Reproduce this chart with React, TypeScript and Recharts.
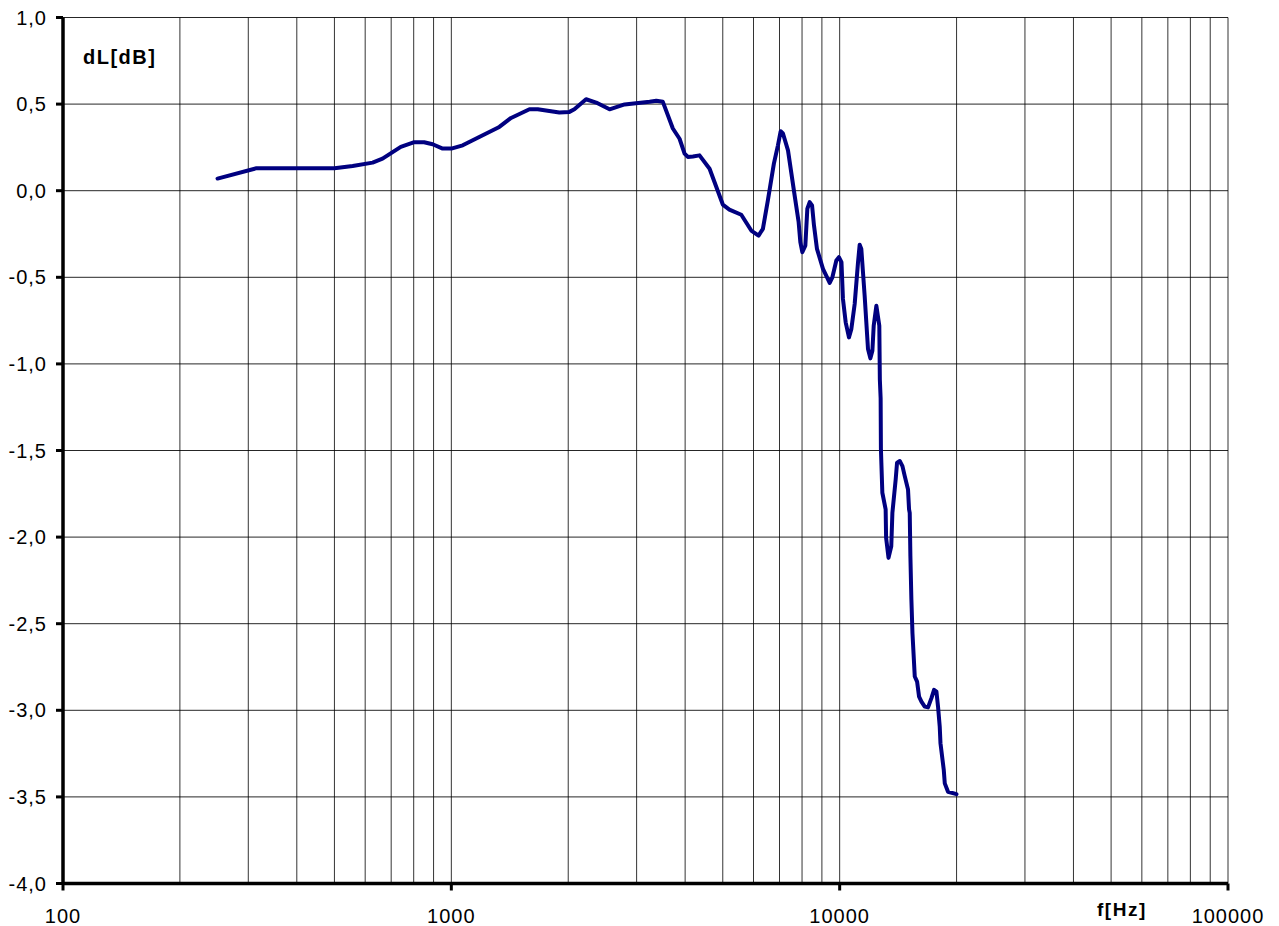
import React from "react";
import { LineChart, Line, XAxis, YAxis, CartesianGrid, ReferenceLine } from "recharts";

const freqHz: number[] = [
  250, 315, 400, 500, 557, 627, 665, 741, 803, 851, 895, 950, 1000, 1070, 1180, 1329, 1425, 1589, 1669, 1897,
  2014, 2074, 2223, 2360, 2555, 2794, 3240, 3371, 3505, 3719, 3870, 3987, 4065, 4189, 4356, 4624, 5001, 5200,
  5580, 5920, 6182, 6343, 6533, 6770, 6935, 7047, 7145, 7361, 7656, 7840, 7920, 8013, 8158, 8256, 8371, 8490,
  8587, 8741, 9058, 9425, 9577, 9804, 9955, 10108, 10197, 10363, 10567, 10715, 10931, 11150, 11260, 11370,
  11596, 11830, 11997, 12142, 12236, 12431, 12650, 12690, 12750, 12770, 12880, 13134, 13170, 13360, 13580,
  13670, 13940, 14053, 14280, 14510, 14710, 14997, 15090, 15150, 15210, 15300, 15397, 15610, 15825, 16013,
  16240, 16560, 16887, 17230, 17500, 17750, 17920, 18100, 18180, 18540, 18650, 19010, 19990,
];

const dLdB: number[] = [
  0.07, 0.13, 0.13, 0.13, 0.143, 0.162, 0.185, 0.253, 0.28, 0.28, 0.268, 0.243, 0.243, 0.262, 0.31, 0.368, 0.42,
  0.47, 0.47, 0.451, 0.455, 0.47, 0.528, 0.509, 0.47, 0.498, 0.513, 0.519, 0.513, 0.359, 0.3, 0.214, 0.195,
  0.198, 0.204, 0.127, -0.08, -0.109, -0.139, -0.23, -0.259, -0.22, -0.056, 0.156, 0.262, 0.343, 0.33, 0.233,
  -0.027, -0.181, -0.297, -0.355, -0.317, -0.104, -0.066, -0.085, -0.2, -0.336, -0.451, -0.532, -0.5, -0.403,
  -0.384, -0.413, -0.625, -0.76, -0.847, -0.8, -0.654, -0.413, -0.312, -0.336, -0.606, -0.914, -0.968, -0.924,
  -0.78, -0.664, -0.78, -1.09, -1.2, -1.49, -1.744, -1.84, -2.004, -2.12, -2.053, -1.86, -1.667, -1.57, -1.561,
  -1.59, -1.648, -1.725, -1.84, -1.86, -2.11, -2.36, -2.554, -2.805, -2.834, -2.921, -2.95, -2.979, -2.983,
  -2.93, -2.882, -2.892, -2.979, -3.094, -3.19, -3.345, -3.422, -3.47, -3.484,
];

const xTicks: number[] = [100, 1000, 10000, 100000];
const xMinorGrid: number[] = [
  200, 300, 400, 500, 600, 700, 800, 900, 1000,
  2000, 3000, 4000, 5000, 6000, 7000, 8000, 9000, 10000,
  20000, 30000, 40000, 50000, 60000, 70000, 80000, 90000, 100000,
];
const yTicks: number[] = [-4, -3.5, -3, -2.5, -2, -1.5, -1, -0.5, 0, 0.5, 1];

const yAxisLabel = "dL[dB]";
const xAxisLabel = "f[Hz]";

const data = freqHz.map((f, i) => ({ f, v: dLdB[i] }));

const font = "'Liberation Sans', Arial, sans-serif";

export default function App() {
  return (
    <div style={{ position: "absolute", left: 0, top: 0, width: 1279, height: 926, background: "#fff" }}>
      <LineChart
        width={1279}
        height={926}
        data={data}
        margin={{ top: 17.5, right: 51, left: 0, bottom: 0.5 }}
      >
        <CartesianGrid vertical={false} stroke="#000" strokeWidth={1} strokeOpacity={0.85} />
        {xMinorGrid.map((x) => (
          <ReferenceLine key={x} x={x} stroke="#000" strokeWidth={1} strokeOpacity={0.8} />
        ))}
        <XAxis
          dataKey="f"
          type="number"
          scale="log"
          domain={[100, 100000]}
          ticks={xTicks}
          interval={0}
          allowDataOverflow
          height={42}
          tickSize={7}
          tickMargin={18}
          axisLine={{ stroke: "#000", strokeWidth: 3.5 }}
          tickLine={{ stroke: "#000", strokeWidth: 3 }}
          tick={{ fill: "#000", fontSize: 20, fontFamily: font, letterSpacing: 1 }}
          tickFormatter={(v: number) => String(v)}
        />
        <YAxis
          type="number"
          domain={[-4, 1]}
          ticks={yTicks}
          interval={0}
          width={63}
          tickSize={7}
          tickMargin={9}
          axisLine={{ stroke: "#000", strokeWidth: 3.5 }}
          tickLine={{ stroke: "#000", strokeWidth: 3 }}
          tick={{ fill: "#000", fontSize: 20, fontFamily: font, letterSpacing: 1 }}
          tickFormatter={(v: number) => v.toFixed(1).replace(".", ",")}
        />
        <Line
          type="linear"
          dataKey="v"
          stroke="#000080"
          strokeWidth={4}
          dot={false}
          activeDot={false}
          isAnimationActive={false}
          strokeLinejoin="round"
          strokeLinecap="round"
        />
      </LineChart>
      <svg
        width={1279}
        height={926}
        style={{ position: "absolute", left: 0, top: 0, pointerEvents: "none" }}
      >
        <text x={83} y={63.5} fontFamily={font} fontWeight="bold" fontSize={20} letterSpacing={1.5} fill="#000">
          {yAxisLabel}
        </text>
        <text x={1097} y={916} fontFamily={font} fontWeight="bold" fontSize={19} letterSpacing={1.5} fill="#000">
          {xAxisLabel}
        </text>
      </svg>
    </div>
  );
}
